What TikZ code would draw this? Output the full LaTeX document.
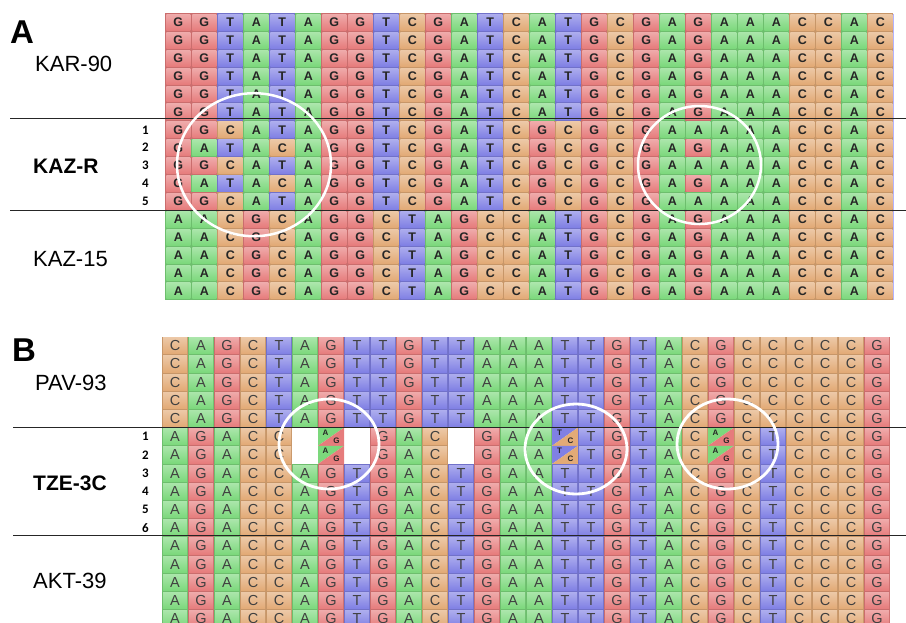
\documentclass[tikz,border=0pt]{standalone}
\usepackage{fontspec}
\setmainfont{Liberation Sans}
\newfontfamily\rownumfont{Carlito}

\definecolor{ntA}{RGB}{124,216,124}
\definecolor{ntC}{RGB}{226,170,118}
\definecolor{ntG}{RGB}{230,124,124}
\definecolor{ntT}{RGB}{128,128,228}

\tikzset{
  baseA/.style={font=\bfseries\fontsize{12.5}{12.5}\selectfont, text=black!85, inner sep=0pt},
  baseB/.style={font=\fontsize{14.5}{14.5}\selectfont, text=black!75, inner sep=0pt},
  minor/.style={font=\bfseries\fontsize{8}{8}\selectfont, text=black!85, inner sep=0pt},
  strain/.style={font=\fontsize{22}{22}\selectfont, anchor=base west, inner sep=0pt},
  mutant/.style={strain, font=\bfseries\fontsize{21}{21}\selectfont},
  panel/.style={font=\bfseries\fontsize{33}{33}\selectfont, anchor=base west, inner sep=0pt},
  rownum/.style={font=\rownumfont\bfseries\fontsize{13}{13}\selectfont, inner sep=0pt},
  divider/.style={black!85, line width=1pt},
  ring/.style={white, line width=2.8pt},
}

\def\gapcode{-}
\def\purine{R}
\def\pyrimidine{Y}

% one coloured cell: x centre, y centre, height, colour
\newcommand{\cellbox}[4]{%
  \fill[#4!88!black] (#1-13,#2-#3/2) rectangle (#1+13,#2+#3/2);
  \shade[top color=#4!65!white, bottom color=#4] (#1-12,#2-#3/2+1) rectangle (#1+12,#2+#3/2-1);
}
% two-base cell: x, y, height, upper colour, lower colour, upper base, lower base, name
\newcommand{\splitcell}[8]{%
  \fill[#4] (#1-13,#2-#3/2) -- (#1+13,#2-#3/2) -- (#1-13,#2+#3/2) -- cycle;
  \fill[#5] (#1+13,#2-#3/2) -- (#1+13,#2+#3/2) -- (#1-13,#2+#3/2) -- cycle;
  \node[minor] (#8a) at (#1-5.5,#2-4) {#6};
  \node[minor] (#8b) at (#1+5.5,#2+4) {#7};
}
% a row of bases: letter style, name, x0, y centre, height, bases
\newcommand{\seqrow}[6]{%
  \foreach \b [count=\i] in {#6} {
    \pgfmathsetmacro\cx{#3+(\i-0.5)*26}
    \edef\code{\b}
    \ifx\code\gapcode
    \else\ifx\code\purine
      \splitcell{\cx}{#4}{#5}{ntA}{ntG}{A}{G}{#2-\i}
    \else\ifx\code\pyrimidine
      \splitcell{\cx}{#4}{#5}{ntT}{ntC}{T}{C}{#2-\i}
    \else
      \cellbox{\cx}{#4}{#5}{nt\b}
      \node[#1] (#2-\i) at (\cx,#4) {\b};
    \fi\fi\fi
  }
}

\begin{document}
\begin{tikzpicture}[x=1pt,y=-1pt]
\useasboundingbox (0,0) rectangle (906,622);
\clip (0,0) rectangle (906,622);

% panel A
\foreach \r in {1,...,6} {
  \pgfmathsetmacro\yc{22.4+(\r-1)*17.9}
  \seqrow{baseA}{kar\r}{165.3}{\yc}{17.9}{G,G,T,A,T,A,G,G,T,C,G,A,T,C,A,T,G,C,G,A,G,A,A,A,C,C,A,C}
}
\seqrow{baseA}{kazr1}{165.3}{129.8}{17.9}{G,G,C,A,T,A,G,G,T,C,G,A,T,C,G,C,G,C,G,A,A,A,A,A,C,C,A,C}
\seqrow{baseA}{kazr2}{165.3}{147.7}{17.9}{G,A,T,A,C,A,G,G,T,C,G,A,T,C,G,C,G,C,G,A,G,A,A,A,C,C,A,C}
\seqrow{baseA}{kazr3}{165.3}{165.6}{17.9}{G,G,C,A,T,A,G,G,T,C,G,A,T,C,G,C,G,C,G,A,A,A,A,A,C,C,A,C}
\seqrow{baseA}{kazr4}{165.3}{183.5}{17.9}{G,A,T,A,C,A,G,G,T,C,G,A,T,C,G,C,G,C,G,A,G,A,A,A,C,C,A,C}
\seqrow{baseA}{kazr5}{165.3}{201.4}{17.9}{G,G,C,A,T,A,G,G,T,C,G,A,T,C,G,C,G,C,G,A,A,A,A,A,C,C,A,C}
\foreach \r in {1,...,5} {
  \pgfmathsetmacro\yc{219.3+(\r-1)*17.9}
  \seqrow{baseA}{kaz\r}{165.3}{\yc}{17.9}{A,A,C,G,C,A,G,G,C,T,A,G,C,C,A,T,G,C,G,A,G,A,A,A,C,C,A,C}
}
\draw[blue!30, line width=0.8pt] (893.6,13.5) -- (893.6,299.9);

% panel B
\foreach \r in {1,...,5} {
  \pgfmathsetmacro\yc{345.7+(\r-1)*18.2}
  \seqrow{baseB}{pav\r}{162}{\yc}{18.2}{C,A,G,C,T,A,G,T,T,G,T,T,A,A,A,T,T,G,T,A,C,G,C,C,C,C,C,G}
}
\seqrow{baseB}{tze1}{162}{436.7}{18.2}{A,G,A,C,C,-,R,-,G,A,C,-,G,A,A,Y,T,G,T,A,C,R,C,T,C,C,C,G}
\seqrow{baseB}{tze2}{162}{454.9}{18.2}{A,G,A,C,C,-,R,-,G,A,C,-,G,A,A,Y,T,G,T,A,C,R,C,T,C,C,C,G}
\foreach \r in {3,...,6} {
  \pgfmathsetmacro\yc{436.7+(\r-1)*18.2}
  \seqrow{baseB}{tze\r}{162}{\yc}{18.2}{A,G,A,C,C,A,G,T,G,A,C,T,G,A,A,T,T,G,T,A,C,G,C,T,C,C,C,G}
}
\foreach \r in {1,...,5} {
  \pgfmathsetmacro\yc{545.9+(\r-1)*18.2}
  \seqrow{baseB}{akt\r}{162}{\yc}{18.2}{A,G,A,C,C,A,G,T,G,A,C,T,G,A,A,T,T,G,T,A,C,G,C,T,C,C,C,G}
}

% group dividers
\draw[divider] (10,118.5) -- (906,118.5);
\draw[divider] (10,210.3) -- (906,210.3);
\draw[divider] (13,427.7) -- (906,427.7);
\draw[divider] (13,535.3) -- (906,535.3);

% labels
\node[panel] (labA) at (10,43) {A};
\node[strain] (kar) at (35,71.7) {KAR-90};
\node[mutant] (kazr) at (33,173.3) {KAZ-R};
\node[strain] (kaz) at (33,266.7) {KAZ-15};
\node[panel] (labB) at (12,361.7) {B};
\node[strain] (pav) at (35,390) {PAV-93};
\node[mutant] (tze) at (33,490) {TZE-3C};
\node[strain] (akt) at (33,588.3) {AKT-39};
\foreach \n in {1,...,5}
  \node[rownum] (numA\n) at (145.5,{129.8+(\n-1)*17.9}) {\n};
\foreach \n in {1,...,6}
  \node[rownum] (numB\n) at (145.5,{436.7+(\n-1)*18.2}) {\n};

% rings round the changed sites
\draw[ring, line width=2.5pt] (254,164.7) ellipse [x radius=77, y radius=71.5];
\draw[ring, line width=2.5pt] (699.5,165) ellipse [x radius=61.5, y radius=59];
\draw[ring] (329,444) ellipse [x radius=50, y radius=45];
\draw[ring] (576,449) ellipse [x radius=51, y radius=45];
\draw[ring] (727.5,444) ellipse [x radius=50.5, y radius=45];
\end{tikzpicture}
\end{document}
